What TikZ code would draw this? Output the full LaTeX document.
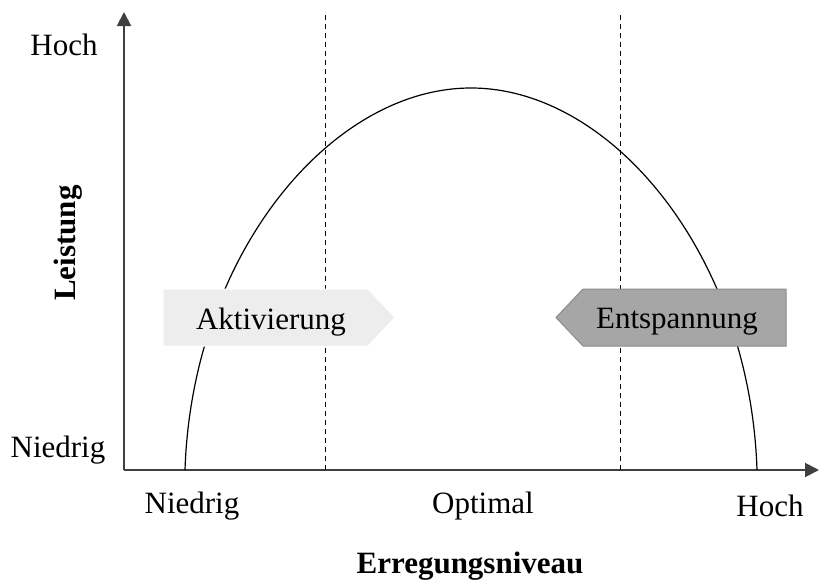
\documentclass[tikz,border=0pt]{standalone}
\usepackage{fontspec}
\setmainfont{Liberation Serif}
\usetikzlibrary{arrows.meta}

\definecolor{aktgray}{HTML}{EDEDED}
\definecolor{entgray}{HTML}{A6A6A6}

\begin{document}
\begin{tikzpicture}[x=0.5pt, y=0.5pt,
  every node/.style={font=\fontsize{15.5}{18}\selectfont, inner sep=0pt},
  axis/.style={line width=1pt, black!75, -{Triangle[length=7pt, width=7pt]}},
  guide/.style={line width=0.5pt, dash pattern=on 2.5pt off 2pt},
  lbl/.style={anchor=center}]
  \useasboundingbox (0,0) rectangle (820,586);
  % axes
  \coordinate (O) at (124,116);
  \coordinate (ytop) at (124,574);
  \coordinate (xend) at (819,116);
  \draw[axis] (O) -- (ytop);
  \draw[axis] (O) -- (xend);
  % dashed guides
  \coordinate (g1b) at (325,116);
  \coordinate (g1t) at (325,574);
  \coordinate (g2b) at (620,116);
  \coordinate (g2t) at (620,574);
  \draw[guide] (g1b) -- (g1t);
  \draw[guide] (g2b) -- (g2t);
  % curve
  \coordinate (cl) at (185,116);
  \coordinate (ctop) at (471,498);
  \coordinate (cr) at (757,116);
  \draw[line width=0.6pt] (cl) .. controls (192,330) and (330,498) .. (ctop)
    .. controls (612,498) and (750,330) .. (cr);
  % arrows
  \fill[aktgray] (163,297) -- (368,297) -- (395,268.5) -- (368,240) -- (163,240) -- cycle;
  \draw[white, line width=0.5pt] (163,297) -- (368,297) -- (395,268.5) -- (368,240) -- (163,240) -- cycle;
  \node[lbl] (akt) at (271,264) {Aktivierung};
  \fill[entgray] (556,268.5) -- (583,297) -- (786,297) -- (786,240) -- (583,240) -- cycle;
  \draw[black!45, line width=0.5pt] (556,268.5) -- (583,297) -- (786,297) -- (786,240) -- (583,240) -- cycle;
  \node[lbl] (ent) at (677,264) {Entspannung};
  % labels
  \node[lbl] (yhi) at (64,541) {Hoch};
  \node[lbl] (ylo) at (58,136) {Niedrig};
  \node[lbl, rotate=90, font=\fontsize{15.5}{18}\selectfont\bfseries] (ytit) at (68,343) {Leistung};
  \node[lbl] (xlo) at (192,80) {Niedrig};
  \node[lbl] (xmid) at (483,80) {Optimal};
  \node[lbl] (xhi) at (770,80) {Hoch};
  \node[lbl, font=\fontsize{15.5}{18}\selectfont\bfseries] (xtit) at (470,20) {Erregungsniveau};
\end{tikzpicture}
\end{document}
